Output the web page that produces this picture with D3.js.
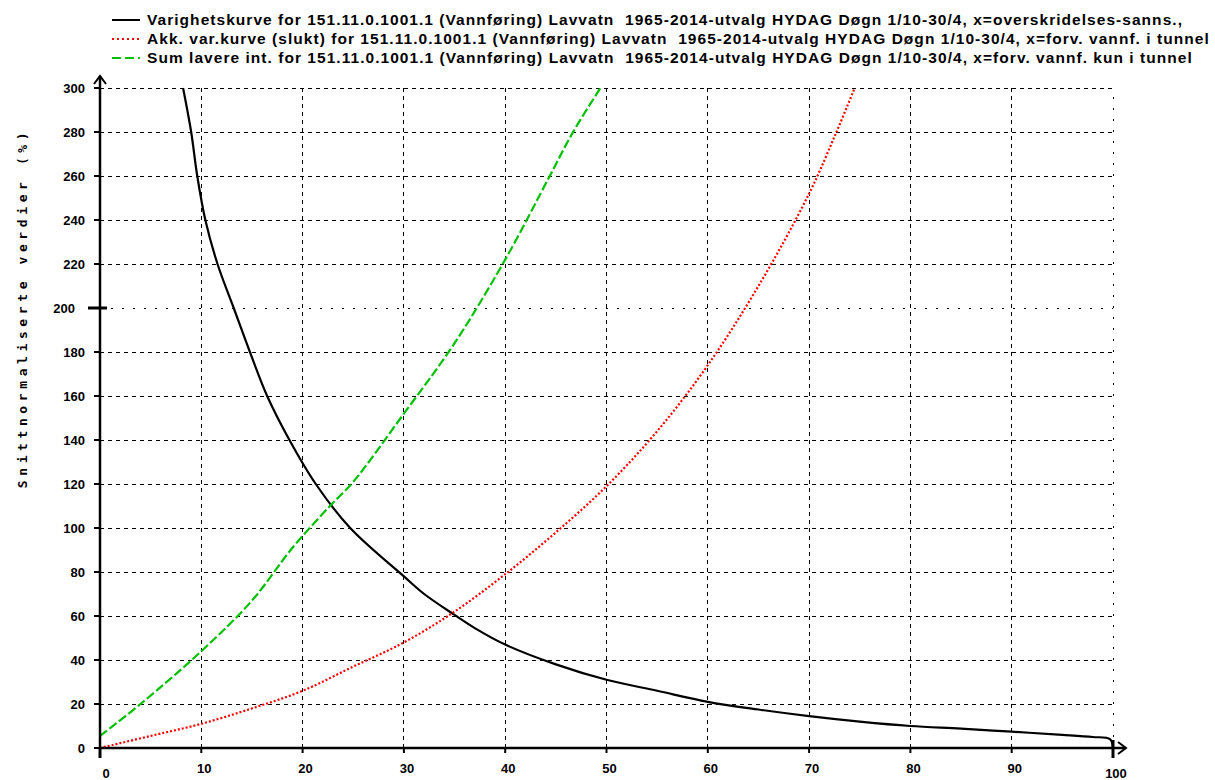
<!DOCTYPE html>
<html lang="no">
<head>
<meta charset="UTF-8">
<title>Varighetskurve Lavvatn</title>
<script src="https://d3js.org/d3.v7.min.js"></script>
<style>
    body, html {
        margin: 0;
        background: #fff;
    }
    svg text {
        font-family: 'Liberation Sans', Arial, sans-serif;
    }
    .tick-label {
        font-size: 13px;
        font-weight: bold;
    }
    .legend-text {
        font-size: 15.5px;
        font-weight: bold;
    }
</style>
</head>
<body>
<svg id="chart" width="1215" height="780"></svg>
<script>
    // Varighetskurve (black), x = overskridelsessannsynlighet
    const varX = [8.2, 9, 9.6, 10.4, 11.6, 13.2, 14.8, 16.5, 18.7, 21.3, 24.7, 30, 32, 35, 37, 40, 45, 50, 55, 60, 65, 70, 75, 80, 85, 90, 95, 98, 99.7, 100];
    const varY = [300, 280, 260, 240, 220, 200, 180, 160, 140, 120, 100, 78, 70, 60.5, 54.5, 47, 38, 31, 26, 21, 17.5, 14.5, 12, 10, 8.8, 7.4, 6, 5, 4, 0];

    // Akk. var.kurve (slukt) (red dotted)
    const akkX = [0, 5, 10, 15, 20, 25, 30, 35, 40, 45, 50, 55, 60, 65, 70, 72.7, 74.5];
    const akkY = [0, 5.5, 11, 18, 26, 37, 48, 62, 79, 98, 119, 144, 174, 210, 252, 280, 300];

    // Sum lavere int. (green dashed)
    const sumX = [0, 4, 10, 15, 19, 22.7, 25, 30, 35, 40, 44.4, 46.7, 49.4];
    const sumY = [5.5, 20, 44, 67, 91, 110, 121, 152, 184, 222, 260, 280, 300];

    const xTicks = [0, 10, 20, 30, 40, 50, 60, 70, 80, 90, 100];
    const yTicks = [0, 20, 40, 60, 80, 100, 120, 140, 160, 180, 200, 220, 240, 260, 280, 300];

    const legendLabels = [
        "Varighetskurve for 151.11.0.1001.1 (Vannføring) Lavvatn  1965-2014-utvalg HYDAG Døgn 1/10-30/4, x=overskridelses-sanns.,",
        "Akk. var.kurve (slukt) for 151.11.0.1001.1 (Vannføring) Lavvatn  1965-2014-utvalg HYDAG Døgn 1/10-30/4, x=forv. vannf. i tunnel",
        "Sum lavere int. for 151.11.0.1001.1 (Vannføring) Lavvatn  1965-2014-utvalg HYDAG Døgn 1/10-30/4, x=forv. vannf. kun i tunnel"
    ];
    const seriesColors = ["#000000", "#ff0000", "#00c000"];
    const seriesDash = [null, "2,2", "9,3"];
    const legendDash = [null, "2,3", "9,4"];

    const svg = d3.select("#chart");

    const x = d3.scaleLinear().domain([0, 100]).range([100, 1113]);
    const y = d3.scaleLinear().domain([0, 300]).range([748, 88]);

    // grid
    const grid = svg.append("g");
    grid.selectAll(".vgrid")
        .data(xTicks.filter(d => d > 0))
        .enter().append("line")
        .attr("x1", d => x(d)).attr("x2", d => x(d))
        .attr("y1", y(0)).attr("y2", y(300))
        .attr("stroke", "#000")
        .attr("stroke-width", 1)
        .attr("shape-rendering", "crispEdges")
        .attr("stroke-dasharray", d => d === 100 ? "2,9" : "4,4");

    grid.selectAll(".hgrid")
        .data(yTicks.filter(d => d > 0))
        .enter().append("line")
        .attr("x1", x(0)).attr("x2", x(100))
        .attr("y1", d => y(d)).attr("y2", d => y(d))
        .attr("stroke", "#000")
        .attr("stroke-width", 1)
        .attr("shape-rendering", "crispEdges")
        .attr("stroke-dasharray", d => d === 200 ? "2,9" : "4,4");

    // curves
    const series = [
        { xs: varX, ys: varY },
        { xs: akkX, ys: akkY },
        { xs: sumX, ys: sumY }
    ];

    const line = d3.line()
        .x(d => x(d[0]))
        .y(d => y(d[1]))
        .curve(d3.curveCatmullRom.alpha(0.5));

    series.forEach((s, i) => {
        svg.append("path")
            .datum(s.xs.map((v, j) => [v, s.ys[j]]))
            .attr("fill", "none")
            .attr("stroke", seriesColors[i])
            .attr("stroke-width", 2.2)
            .attr("stroke-dasharray", seriesDash[i])
            .attr("d", line);
    });

    // axes
    const axes = svg.append("g").attr("stroke", "#000").attr("fill", "none");
    axes.append("line")
        .attr("x1", x(0)).attr("x2", x(0))
        .attr("y1", y(0) + 1).attr("y2", 76)
        .attr("stroke-width", 2.5);
    axes.append("path")
        .attr("d", `M${x(0) - 6},${84} L${x(0)},${76} L${x(0) + 6},${84}`)
        .attr("stroke-width", 2);
    axes.append("line")
        .attr("x1", x(0) - 1).attr("x2", 1126)
        .attr("y1", y(0)).attr("y2", y(0))
        .attr("stroke-width", 2.5);
    axes.append("path")
        .attr("d", `M1118,${y(0) - 6} L1126,${y(0)} L1118,${y(0) + 6}`)
        .attr("stroke-width", 2);

    // y ticks
    axes.selectAll(".yt")
        .data(yTicks)
        .enter().append("line")
        .attr("x1", d => d === 200 ? x(0) - 12 : x(0) - 6)
        .attr("x2", d => d === 200 ? x(0) + 7 : x(0))
        .attr("y1", d => y(d)).attr("y2", d => y(d))
        .attr("stroke-width", d => d === 200 ? 3 : 2);

    // x ticks
    axes.selectAll(".xt")
        .data(xTicks)
        .enter().append("line")
        .attr("x1", d => x(d)).attr("x2", d => x(d))
        .attr("y1", d => d === 100 ? y(0) - 8 : y(0))
        .attr("y2", d => (d === 0 || d === 100) ? y(0) + 10 : y(0) + 5)
        .attr("stroke-width", d => (d === 0 || d === 100) ? 3 : 2);

    // tick labels
    svg.selectAll(".ylab")
        .data(yTicks)
        .enter().append("text")
        .attr("class", "tick-label")
        .attr("x", d => d === 200 ? 75 : 85)
        .attr("y", d => y(d) + 5)
        .attr("text-anchor", "end")
        .text(d => d);

    svg.selectAll(".xlab")
        .data(xTicks)
        .enter().append("text")
        .attr("class", "tick-label")
        .attr("x", d => d === 0 ? x(d) + 6 : x(d) + 3)
        .attr("y", d => (d === 0 || d === 100) ? 778 : 773)
        .attr("text-anchor", "middle")
        .text(d => d);

    // y axis title
    svg.append("text")
        .attr("transform", "translate(27,308) rotate(-90)")
        .attr("text-anchor", "middle")
        .style("font-family", "'DejaVu Sans Mono', monospace")
        .style("font-size", "13px")
        .style("font-weight", "bold")
        .style("letter-spacing", "4.6px")
        .text("Snittnormaliserte verdier  (%)");

    // legend
    const legend = svg.append("g");
    const legendTexts = [];
    legendLabels.forEach((lab, i) => {
        const ly = 20 + i * 19;
        legend.append("line")
            .attr("x1", 112).attr("x2", 140)
            .attr("y1", ly).attr("y2", ly)
            .attr("stroke", seriesColors[i])
            .attr("stroke-width", 2)
            .attr("stroke-dasharray", legendDash[i]);
        const t = legend.append("text")
            .attr("class", "legend-text")
            .attr("x", 147)
            .attr("y", ly + 5)
            .attr("xml:space", "preserve")
            .style("white-space", "pre")
            .text(lab);
        legendTexts.push(t);
    });

    // stretch the legend letters so the first row spans like the original (147 -> 1183)
    const firstLen = legendTexts[0].node().getComputedTextLength();
    const spacing = (1036 - firstLen) / legendLabels[0].length;
    legendTexts.forEach(t => t.style("letter-spacing", spacing + "px"));
</script>
</body>
</html>
